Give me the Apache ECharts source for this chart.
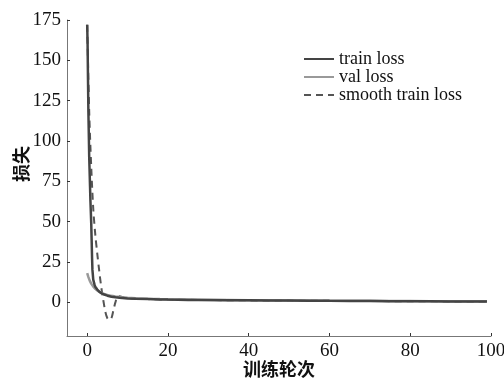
<!DOCTYPE html>
<html>
<head>
<meta charset="utf-8">
<script src="https://cdn.jsdelivr.net/npm/echarts@6/dist/echarts.min.js"></script>
</head>
<body style="margin:0">
<div id="chart" style="width:504px;height:379px"></div>
<script>
// epochs (fractional near the start) and loss values
var trainX = [0, 0.1, 0.2, 0.3, 0.4, 0.5, 0.6, 0.7, 0.8, 0.9, 1.0, 1.1, 1.2, 1.3, 1.5, 1.8, 2, 2.5, 3, 3.5, 4, 5, 6, 7, 8, 10, 12, 15, 18, 20, 25, 30, 35, 40, 45, 50, 55, 60, 65, 70, 75, 80, 85, 90, 95, 99];
var trainY = [172, 160, 138, 118, 104, 90, 81, 72, 63, 56, 49, 39, 28, 20, 14, 11, 9.5, 7.8, 6.5, 5.6, 4.9, 4.0, 3.4, 3.0, 2.7, 2.3, 2.1, 1.9, 1.7, 1.6, 1.4, 1.3, 1.2, 1.1, 1.0, 0.95, 0.9, 0.8, 0.75, 0.7, 0.6, 0.55, 0.5, 0.45, 0.4, 0.4];
var valX = [0, 0.3, 0.6, 1, 1.5, 2, 2.5, 3, 4, 5, 6, 7, 8, 10, 12, 15, 18, 20, 25, 30, 35, 40, 45, 50, 55, 60, 65, 70, 75, 80, 85, 90, 95, 99];
var valY = [18, 15.5, 13.5, 11.5, 9.6, 8.3, 7.2, 6.4, 5.3, 4.5, 3.9, 3.5, 3.2, 2.7, 2.4, 2.1, 1.9, 1.8, 1.6, 1.4, 1.3, 1.2, 1.1, 1.0, 0.95, 0.9, 0.85, 0.8, 0.7, 0.65, 0.6, 0.55, 0.5, 0.5];
var smoothX = [0, 0.5, 1, 1.5, 2, 2.5, 3, 3.5, 4, 4.5, 5, 5.5, 6, 6.5, 7, 7.5, 8, 9, 10, 15, 20, 30, 40, 50, 60, 70, 80, 90, 99];
var smoothY = [172, 118, 84, 58, 42, 30, 19, 9, 1, -6, -10, -11, -10, -5, 0, 3.5, 3.6, 2.9, 2.4, 1.9, 1.6, 1.3, 1.1, 0.95, 0.8, 0.7, 0.55, 0.45, 0.4];
var yTicks = [0, 25, 50, 75, 100, 125, 150, 175];
var xTicks = [0, 20, 40, 60, 80, 100];

function pairs(xs, ys) {
  return xs.map(function (x, i) { return [x, ys[i]]; });
}

var serif = '"Liberation Serif", "DejaVu Serif", serif';
var cjk = '"Noto Sans CJK SC", sans-serif';

var myChart = echarts.init(document.getElementById('chart'));
var option = {
  animation: false,
  backgroundColor: '#fff',
  grid: { left: 67, right: 13, top: 20, bottom: 43, containLabel: false, outerBoundsMode: 'none' },
  legend: {
    orient: 'vertical',
    left: 298,
    top: 45,
    itemWidth: 30,
    itemHeight: 10,
    itemGap: 0,
    itemStyle: { opacity: 0 },
    textStyle: { fontFamily: serif, fontSize: 18, color: '#111' },
    data: ['train loss', 'val loss', 'smooth train loss']
  },
  xAxis: {
    type: 'value',
    min: -5,
    max: 100,
    name: '训练轮次',
    nameLocation: 'middle',
    nameGap: 24,
    nameMoveOverlap: false,
    nameTextStyle: { fontFamily: cjk, fontSize: 18, fontWeight: 'bold', color: '#111' },
    splitLine: { show: false },
    axisLine: { onZero: false, lineStyle: { color: '#777', width: 1 } },
    axisTick: { inside: true, length: 3, customValues: xTicks, lineStyle: { color: '#333' } },
    axisLabel: { customValues: xTicks, fontFamily: serif, fontSize: 19, color: '#111', margin: 6 }
  },
  yAxis: {
    type: 'value',
    min: -21,
    max: 175,
    name: '损失',
    nameLocation: 'middle',
    nameGap: 37,
    nameMoveOverlap: false,
    nameTextStyle: { fontFamily: cjk, fontSize: 18, fontWeight: 'bold', color: '#111', padding: [0, 0, 0, 28] },
    splitLine: { show: false },
    axisLine: { show: true, onZero: false, lineStyle: { color: '#777', width: 1 } },
    axisTick: { show: true, inside: true, length: 3, customValues: yTicks, lineStyle: { color: '#333' } },
    axisLabel: { customValues: yTicks, fontFamily: serif, fontSize: 19, color: '#111', margin: 6 }
  },
  series: [
    {
      name: 'train loss',
      type: 'line',
      symbol: 'none',
      data: pairs(trainX, trainY),
      lineStyle: { color: '#444', width: 2.5 },
      itemStyle: { color: '#444' },
      z: 3
    },
    {
      name: 'val loss',
      type: 'line',
      symbol: 'none',
      data: pairs(valX, valY),
      lineStyle: { color: '#999', width: 2.5 },
      itemStyle: { color: '#999' },
      z: 2
    },
    {
      name: 'smooth train loss',
      type: 'line',
      symbol: 'none',
      smooth: 0.3,
      data: pairs(smoothX, smoothY),
      lineStyle: { color: '#555', width: 2, type: [7, 5] },
      itemStyle: { color: '#555' },
      z: 1
    }
  ]
};
myChart.setOption(option);
</script>
</body>
</html>
